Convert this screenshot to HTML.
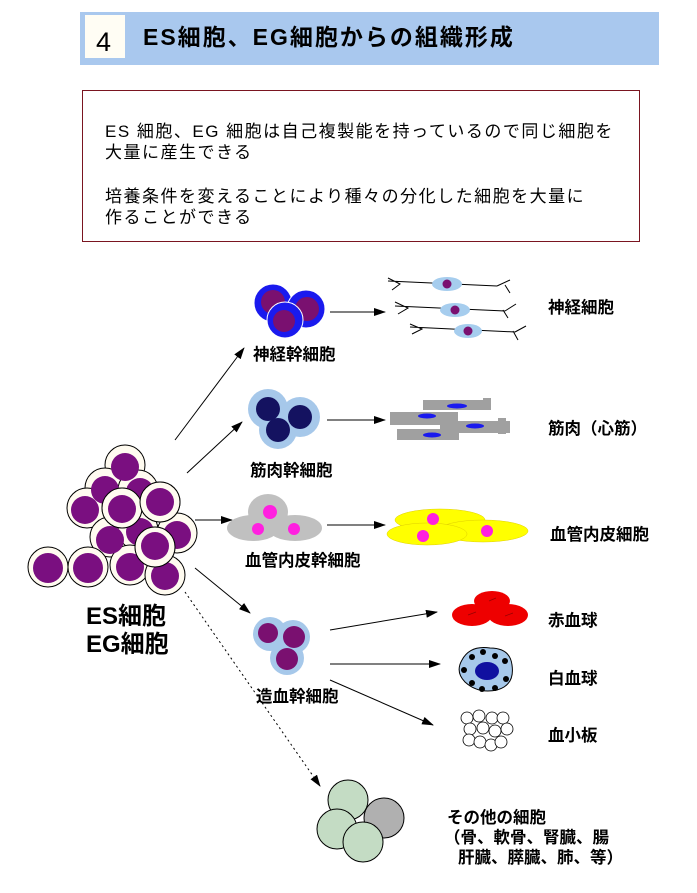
<!DOCTYPE html>
<html><head><meta charset="utf-8"><style>
body{margin:0;background:#fff;width:697px;height:893px;overflow:hidden}
svg{display:block}
text{font-family:"Liberation Sans","Noto Sans CJK JP",sans-serif;fill:#000}
.l{font-size:16.5px;font-weight:bold}
</style></head><body>
<svg width="697" height="893" viewBox="0 0 697 893">
<defs>
<marker id="ah" markerWidth="12" markerHeight="8" refX="11" refY="4" orient="auto" markerUnits="userSpaceOnUse"><path d="M0,0 L12,4 L0,8 z" fill="#000"/></marker>
</defs>
<rect x="80" y="12" width="579" height="53" fill="#a9c8ee"/>
<rect x="85" y="15" width="40" height="43" fill="#fffdf4"/>
<text x="96" y="51" font-size="27">4</text>
<text x="143" y="45" font-size="23" font-weight="bold" letter-spacing="2" fill="#0a0a30">ES細胞、EG細胞からの組織形成</text>
<rect x="82.5" y="90.5" width="557" height="151" fill="#fff" stroke="#7a1520" stroke-width="1"/>
<text x="105" y="137" font-size="17" letter-spacing="1.5">ES 細胞、EG 細胞は自己複製能を持っているので同じ細胞を</text>
<text x="105" y="158" font-size="17" letter-spacing="1.5">大量に産生できる</text>
<text x="105" y="202" font-size="17" letter-spacing="1.5">培養条件を変えることにより種々の分化した細胞を大量に</text>
<text x="105" y="223" font-size="17" letter-spacing="1.5">作ることができる</text>

<g stroke="#000" stroke-width="1">
<g fill="#fffbf0">
<circle cx="125" cy="465" r="20"/><circle cx="105" cy="488" r="20"/><circle cx="138" cy="490" r="20"/>
<circle cx="87" cy="508" r="20"/><circle cx="110" cy="537" r="20"/><circle cx="138" cy="530" r="20"/>
<circle cx="177" cy="533" r="20"/><circle cx="122" cy="508" r="20"/><circle cx="160" cy="502" r="20"/>
<circle cx="48" cy="567" r="20"/><circle cx="88" cy="567" r="20"/><circle cx="130" cy="565" r="20"/>
<circle cx="165" cy="575" r="20"/><circle cx="155" cy="547" r="20"/>
</g></g>
<g fill="#7a0f80">
<circle cx="125" cy="467" r="14"/><circle cx="105" cy="490" r="14"/><circle cx="140" cy="492" r="14"/>
<circle cx="85" cy="510" r="14"/><circle cx="110" cy="540" r="14"/><circle cx="140" cy="532" r="14"/>
<circle cx="177" cy="535" r="14"/><circle cx="165" cy="576" r="14"/><circle cx="48" cy="568" r="15"/><circle cx="88" cy="568" r="15"/><circle cx="130" cy="567" r="14"/>
</g>
<circle cx="122" cy="508" r="20" fill="#fffbf0" stroke="#000"/><circle cx="122" cy="509" r="14" fill="#7a0f80"/>
<circle cx="160" cy="502" r="20" fill="#fffbf0" stroke="#000"/><circle cx="160" cy="502" r="14" fill="#7a0f80"/>
<circle cx="155" cy="547" r="20" fill="#fffbf0" stroke="#000"/><circle cx="155" cy="546" r="14" fill="#7a0f80"/>
<text x="86" y="624" font-size="24" font-weight="bold">ES細胞</text>
<text x="86" y="652" font-size="24" font-weight="bold">EG細胞</text>

<g stroke="#000" stroke-width="1" fill="none" marker-end="url(#ah)">
<line x1="175" y1="440" x2="244" y2="348"/>
<line x1="187" y1="473" x2="242" y2="422"/>
<line x1="195" y1="520" x2="232" y2="520"/>
<line x1="195" y1="568" x2="250" y2="613"/>
<line x1="185" y1="592" x2="320" y2="786" stroke-dasharray="2,3"/>
<line x1="330" y1="312" x2="385" y2="312"/>
<line x1="327" y1="420" x2="385" y2="420"/>
<line x1="327" y1="525" x2="385" y2="525"/>
<line x1="330" y1="630" x2="437" y2="612"/>
<line x1="330" y1="664" x2="440" y2="664"/>
<line x1="330" y1="680" x2="433" y2="725"/>
</g>

<g stroke="#fff" stroke-width="1">
<circle cx="273" cy="303" r="19" fill="#1a1aee"/><circle cx="273" cy="302" r="12" fill="#7a1070" stroke="none"/>
<circle cx="306" cy="309" r="19" fill="#1a1aee"/><circle cx="307" cy="309" r="12" fill="#7a1070" stroke="none"/>
<circle cx="285" cy="320" r="18" fill="#1a1aee"/><circle cx="284" cy="321" r="11" fill="#7a1070" stroke="none"/>
</g>
<text x="253" y="360" class="l">神経幹細胞</text>
<g stroke="#000" stroke-width="1" fill="none">
<path d="M388,281 L497,286 M388,278 L400,284 L392,290 M497,286 L510,280 M505,285 L510,293"/>
<path d="M395,306 L505,311 M395,302 L408,308 L398,314 M505,311 L516,304 M503,310 L508,318"/>
<path d="M410,327 L515,332 M410,324 L422,329 L412,334 M515,332 L526,326 M513,331 L518,340"/>
</g>
<ellipse cx="447" cy="284" rx="15" ry="7" fill="#a6cdee"/><circle cx="447" cy="284" r="4.5" fill="#7a1070"/>
<ellipse cx="455" cy="310" rx="15" ry="7" fill="#a6cdee"/><circle cx="455" cy="310" r="4.5" fill="#7a1070"/>
<ellipse cx="468" cy="331" rx="14" ry="7" fill="#a6cdee"/><circle cx="468" cy="331" r="4.5" fill="#7a1070"/>
<text x="548" y="313" class="l">神経細胞</text>

<circle cx="268" cy="409" r="20" fill="#a6c8ea"/><circle cx="300" cy="417" r="20" fill="#a6c8ea"/><circle cx="278" cy="430" r="19" fill="#a6c8ea"/>
<circle cx="268" cy="409" r="12" fill="#141260"/><circle cx="300" cy="417" r="12" fill="#141260"/><circle cx="278" cy="430" r="12" fill="#141260"/>
<text x="250" y="476" class="l">筋肉幹細胞</text>
<g fill="#a0a0a0">
<rect x="423" y="400" width="65" height="10"/><rect x="483" y="398" width="8" height="12"/>
<rect x="390" y="412" width="68" height="13"/>
<rect x="440" y="421" width="70" height="12"/><rect x="498" y="418" width="8" height="16"/>
<rect x="397" y="429" width="62" height="11"/>
</g>
<g fill="#1a1aee">
<ellipse cx="457" cy="406" rx="10" ry="2.5"/><ellipse cx="427" cy="416" rx="9" ry="2.5"/>
<ellipse cx="475" cy="426" rx="9" ry="2.5"/><ellipse cx="432" cy="435" rx="9" ry="2.5"/>
</g>
<text x="548" y="434" class="l">筋肉（心筋）</text>

<ellipse cx="268" cy="512" rx="20" ry="18" fill="#c0c0c0"/>
<ellipse cx="253" cy="528" rx="26" ry="13" fill="#c0c0c0"/>
<ellipse cx="295" cy="528" rx="27" ry="13" fill="#c0c0c0"/>
<circle cx="270" cy="512" r="7" fill="#ff20e0"/><circle cx="258" cy="529" r="6" fill="#ff20e0"/><circle cx="294" cy="529" r="6" fill="#ff20e0"/>
<text x="245" y="566" class="l">血管内皮幹細胞</text>
<ellipse cx="440" cy="520" rx="45" ry="11" fill="#ffff00" stroke="#e0d000" stroke-width="0.5"/>
<ellipse cx="483" cy="531" rx="45" ry="11" fill="#ffff00" stroke="#e0d000" stroke-width="0.5"/>
<ellipse cx="427" cy="534" rx="40" ry="11" fill="#ffff00" stroke="#e0d000" stroke-width="0.5"/>
<circle cx="433" cy="519" r="6" fill="#ff20e0"/><circle cx="487" cy="531" r="6" fill="#ff20e0"/><circle cx="423" cy="536" r="6" fill="#ff20e0"/>
<text x="550" y="540" class="l">血管内皮細胞</text>

<circle cx="270" cy="634" r="17" fill="#a6c8ea"/><circle cx="293" cy="637" r="17" fill="#a6c8ea"/><circle cx="287" cy="658" r="17" fill="#a6c8ea"/>
<circle cx="268" cy="633" r="10" fill="#7a1070"/><circle cx="294" cy="637" r="11" fill="#7a1070"/><circle cx="287" cy="659" r="11" fill="#7a1070"/>
<text x="256" y="702" class="l">造血幹細胞</text>
<ellipse cx="492" cy="601" rx="18" ry="10" fill="#ee0000"/>
<ellipse cx="472" cy="615" rx="20" ry="11" fill="#ee0000"/>
<ellipse cx="508" cy="615" rx="20" ry="11" fill="#ee0000"/>
<g stroke="#900" stroke-width="0.7" fill="none"><path d="M468,615 l8,-3 M505,616 l8,-3 M489,601 l7,-3"/></g>
<text x="548" y="626" class="l">赤血球</text>
<path d="M462,660 Q470,645 490,648 Q510,648 512,665 Q515,685 497,690 Q478,694 465,682 Q455,672 462,660z" fill="#a6c8ea" stroke="#000" stroke-width="1"/>
<ellipse cx="487" cy="671" rx="12" ry="9" fill="#1010a0"/>
<g fill="#000"><circle cx="472" cy="657" r="3"/><circle cx="483" cy="652" r="3"/><circle cx="495" cy="656" r="3"/><circle cx="505" cy="661" r="3"/><circle cx="506" cy="679" r="3"/><circle cx="495" cy="688" r="3"/><circle cx="482" cy="689" r="3"/><circle cx="472" cy="683" r="3"/><circle cx="464" cy="670" r="3"/></g>
<text x="548" y="684" class="l">白血球</text>
<g fill="#fff" stroke="#000" stroke-width="0.8">
<circle cx="467" cy="718" r="6"/><circle cx="479" cy="716" r="6"/><circle cx="492" cy="718" r="6"/><circle cx="503" cy="718" r="6"/>
<circle cx="470" cy="729" r="6"/><circle cx="483" cy="728" r="6"/><circle cx="495" cy="731" r="6"/><circle cx="507" cy="729" r="6"/>
<circle cx="469" cy="740" r="6"/><circle cx="480" cy="742" r="6"/><circle cx="491" cy="745" r="6"/><circle cx="501" cy="742" r="6"/>
</g>
<text x="548" y="741" class="l">血小板</text>

<g stroke="#000" stroke-width="1">
<circle cx="348" cy="800" r="20" fill="#c4dcc4"/>
<circle cx="384" cy="818" r="20" fill="#b0b0b0"/>
<circle cx="337" cy="829" r="20" fill="#c4dcc4"/>
<circle cx="363" cy="842" r="20" fill="#c4dcc4"/>
</g>
<text x="447" y="823" class="l">その他の細胞</text>
<text x="444" y="843" class="l">（骨、軟骨、腎臓、腸</text>
<text x="458" y="863" class="l">肝臓、膵臓、肺、等）</text>
</svg>
</body></html>
